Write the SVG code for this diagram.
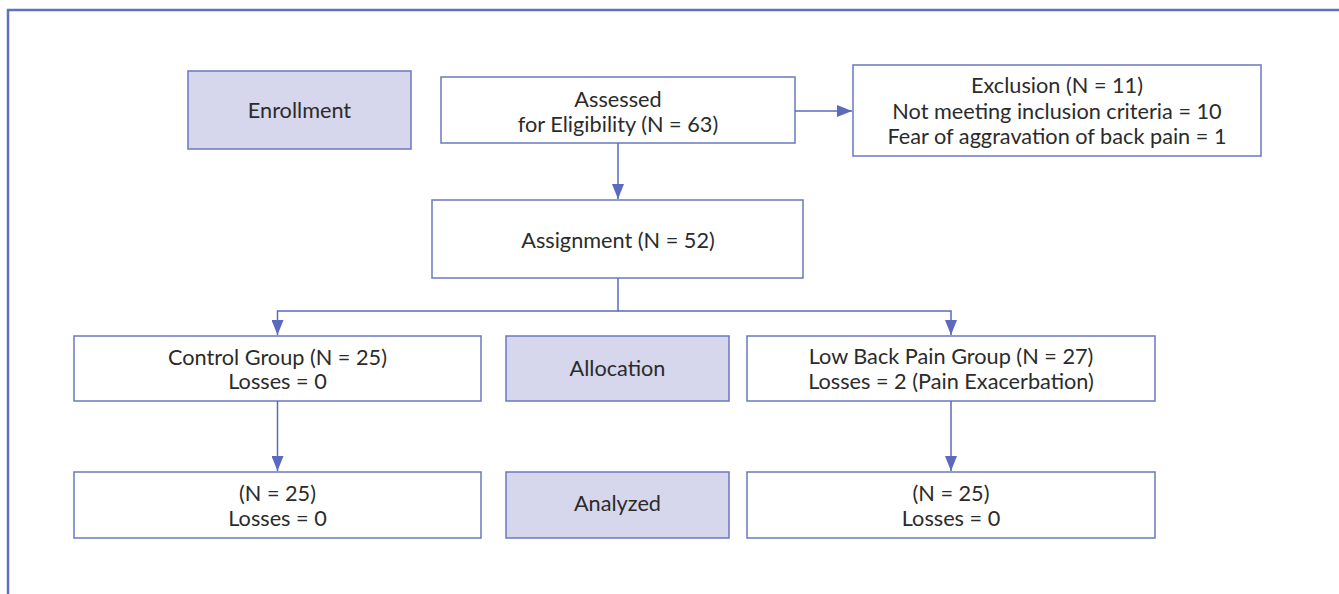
<svg xmlns="http://www.w3.org/2000/svg" width="1339" height="594" viewBox="0 0 1339 594">
<style>
.box{fill:#ffffff;stroke:#6a78c0;stroke-width:1.5}
.hd{fill:#d6d6ec;stroke:#6a78c0;stroke-width:1.5}
.t{font-family:Lato,"Noto Sans",sans-serif;font-size:21.7px;fill:#2b2b2b;text-anchor:middle}
.c{fill:none;stroke:#5b6abf;stroke-width:1.5}
</style>
<defs>
<marker id="ah" viewBox="0 0 15 12" refX="15" refY="6" markerWidth="15" markerHeight="12" markerUnits="userSpaceOnUse" orient="auto">
<path d="M0,0 L15,6 L0,12 z" fill="#5b6abf"/>
</marker>
</defs>
<rect x="0" y="0" width="1339" height="594" fill="#ffffff"/>
<path d="M8,594 V10 H1339" fill="none" stroke="#6070c0" stroke-width="2.5"/>
<g id="enrollment"><rect class="hd" x="188" y="71" width="223" height="78"/><text class="t" x="299.5" y="118">Enrollment</text></g>
<g id="assessed"><rect class="box" x="441" y="77" width="354" height="66"/><text class="t" x="618" y="107">Assessed</text><text class="t" x="618" y="132">for Eligibility (N = 63)</text></g>
<g id="exclusion"><rect class="box" x="853" y="65" width="408" height="91"/><text class="t" x="1057" y="93">Exclusion (N = 11)</text><text class="t" x="1057" y="119">Not meeting inclusion criteria = 10</text><text class="t" x="1057" y="144">Fear of aggravation of back pain = 1</text></g>
<g id="assignment"><rect class="box" x="432" y="200" width="371" height="78"/><text class="t" x="618" y="248">Assignment (N = 52)</text></g>
<g id="control"><rect class="box" x="74" y="336" width="407" height="65"/><text class="t" x="277.5" y="365">Control Group (N = 25)</text><text class="t" x="277.5" y="389">Losses = 0</text></g>
<g id="allocation"><rect class="hd" x="506" y="336" width="223" height="65"/><text class="t" x="617.5" y="376">Allocation</text></g>
<g id="lowback"><rect class="box" x="747" y="336" width="408" height="65"/><text class="t" x="951" y="364">Low Back Pain Group (N = 27)</text><text class="t" x="951" y="389">Losses = 2 (Pain Exacerbation)</text></g>
<g id="control-analyzed"><rect class="box" x="74" y="472" width="407" height="66"/><text class="t" x="277.5" y="501">(N = 25)</text><text class="t" x="277.5" y="526">Losses = 0</text></g>
<g id="analyzed"><rect class="hd" x="506" y="472" width="223" height="66"/><text class="t" x="617.5" y="511">Analyzed</text></g>
<g id="lowback-analyzed"><rect class="box" x="747" y="472" width="408" height="66"/><text class="t" x="951" y="501">(N = 25)</text><text class="t" x="951" y="526">Losses = 0</text></g>
<g id="connectors">
<path class="c" d="M795,111 H852" marker-end="url(#ah)"/>
<path class="c" d="M618,143 V199" marker-end="url(#ah)"/>
<path class="c" d="M618,278 V311 H277.5 V335" marker-end="url(#ah)"/>
<path class="c" d="M618,311 H951 V335" marker-end="url(#ah)"/>
<path class="c" d="M277.5,401 V471" marker-end="url(#ah)"/>
<path class="c" d="M951,401 V471" marker-end="url(#ah)"/>
</g>
</svg>
